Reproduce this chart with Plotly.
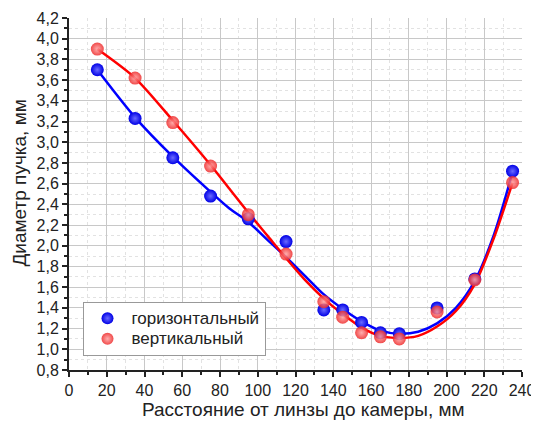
import plotly.graph_objects as go

# Measured points
x_pts = [15, 35, 55, 75, 95, 115, 135, 145, 155, 165, 175, 195, 215, 235]
horiz_pts = [3.70, 3.23, 2.85, 2.48, 2.26, 2.04, 1.38, 1.38, 1.26, 1.16, 1.15, 1.40, 1.68, 2.72]
vert_pts = [3.90, 3.62, 3.19, 2.77, 2.30, 1.92, 1.46, 1.31, 1.16, 1.12, 1.10, 1.36, 1.67, 2.61]

# Fitted curves
x_fit = [15, 35, 55, 75, 85, 95, 105, 115, 125, 135, 145, 155, 165, 175, 185, 195, 205, 215, 225, 235]
horiz_fit = [3.70, 3.24, 2.86, 2.52, 2.36, 2.23, 2.06, 1.89, 1.71, 1.53, 1.39, 1.27, 1.18, 1.15, 1.17, 1.25, 1.40, 1.66, 2.10, 2.71]
vert_fit = [3.90, 3.62, 3.21, 2.78, 2.55, 2.32, 2.10, 1.88, 1.67, 1.49, 1.34, 1.21, 1.13, 1.11, 1.13, 1.22, 1.37, 1.63, 2.07, 2.61]

labels = ["горизонтальный", "вертикальный"]
x_title = "Расстояние от линзы до камеры, мм"
y_title = "Диаметр пучка, мм"

BLUE = "#0000ff"
RED = "#ff0000"
FONT = "Liberation Sans, Arial, sans-serif"

def big(s):
    return '<span style="font-size:17px">' + s + '</span>'

fig = go.Figure()
fig.add_trace(go.Scatter(x=x_fit, y=horiz_fit, mode="lines", line=dict(color=BLUE, width=2.5, shape="spline", smoothing=0.8), showlegend=False, hoverinfo="skip"))
fig.add_trace(go.Scatter(x=x_fit, y=vert_fit, mode="lines", line=dict(color=RED, width=2.5, shape="spline", smoothing=0.8), showlegend=False, hoverinfo="skip"))
fig.add_trace(go.Scatter(x=x_pts, y=horiz_pts, mode="markers", name=big(labels[0]),
                         marker=dict(size=13, color="#0000e6", line=dict(width=0), gradient=dict(type="radial", color="#6a6aff"))))
fig.add_trace(go.Scatter(x=x_pts, y=vert_pts, mode="markers", name=big(labels[1]),
                         marker=dict(size=13, color="#ee2a2a", opacity=0.85, line=dict(width=0), gradient=dict(type="radial", color="#ffa0a0"))))

tickfont = dict(family=FONT, size=16, color="#222222")

W, H = 531, 417
L, R, T, B = 61, 17, 10, 55
pw, ph = W - L - R, H - T - B

fig.update_layout(
    width=W, height=H,
    margin=dict(l=L, r=R, t=T, b=B, autoexpand=False),
    paper_bgcolor="white", plot_bgcolor="white",
    separators=", ",
    showlegend=True,
    legend=dict(x=(74.5 - L) / pw, y=(H - B - 294) / ph, xanchor="left", yanchor="top",
                bordercolor="#999999", borderwidth=1, bgcolor="white",
                font=dict(family=FONT, size=13.5, color="#222222"),
                tracegroupgap=0, itemsizing="constant", itemwidth=38),
    xaxis=dict(range=[0, 240], dtick=20, tick0=0, showline=True, linecolor="#222222", linewidth=2,
               ticks="outside", ticklen=5, tickwidth=1.5, tickcolor="#222222", tickfont=tickfont,
               showgrid=True, gridcolor="#c8c8c8", gridwidth=1, zeroline=False, automargin=False,
               minor=dict(dtick=10, ticks="outside", ticklen=3, tickcolor="#222222", showgrid=True,
                          gridcolor="#e2e2e2", griddash="dot", gridwidth=1)),
    yaxis=dict(range=[0.8, 4.2], dtick=0.2, tick0=0.8, tickformat=".1f", showline=True, linecolor="#222222", linewidth=2,
               ticks="outside", ticklen=5, tickwidth=1.5, tickcolor="#222222", tickfont=tickfont,
               showgrid=True, gridcolor="#c8c8c8", gridwidth=1, zeroline=False, automargin=False,
               minor=dict(dtick=0.1, ticks="outside", ticklen=3, tickcolor="#222222", showgrid=True,
                          gridcolor="#e2e2e2", griddash="dot", gridwidth=1)),
    annotations=[
        dict(text=x_title, xref="paper", yref="paper", x=(295 - L) / pw, y=(H - B - 402) / ph,
             xanchor="center", yanchor="middle", showarrow=False,
             font=dict(family=FONT, size=19, color="#222222")),
        dict(text=y_title, xref="paper", yref="paper", x=(11 - L) / pw, y=(H - B - 175.5) / ph,
             xanchor="center", yanchor="middle", showarrow=False, textangle=-90,
             font=dict(family=FONT, size=19, color="#222222")),
    ],
)

fig.write_html("out.html")
